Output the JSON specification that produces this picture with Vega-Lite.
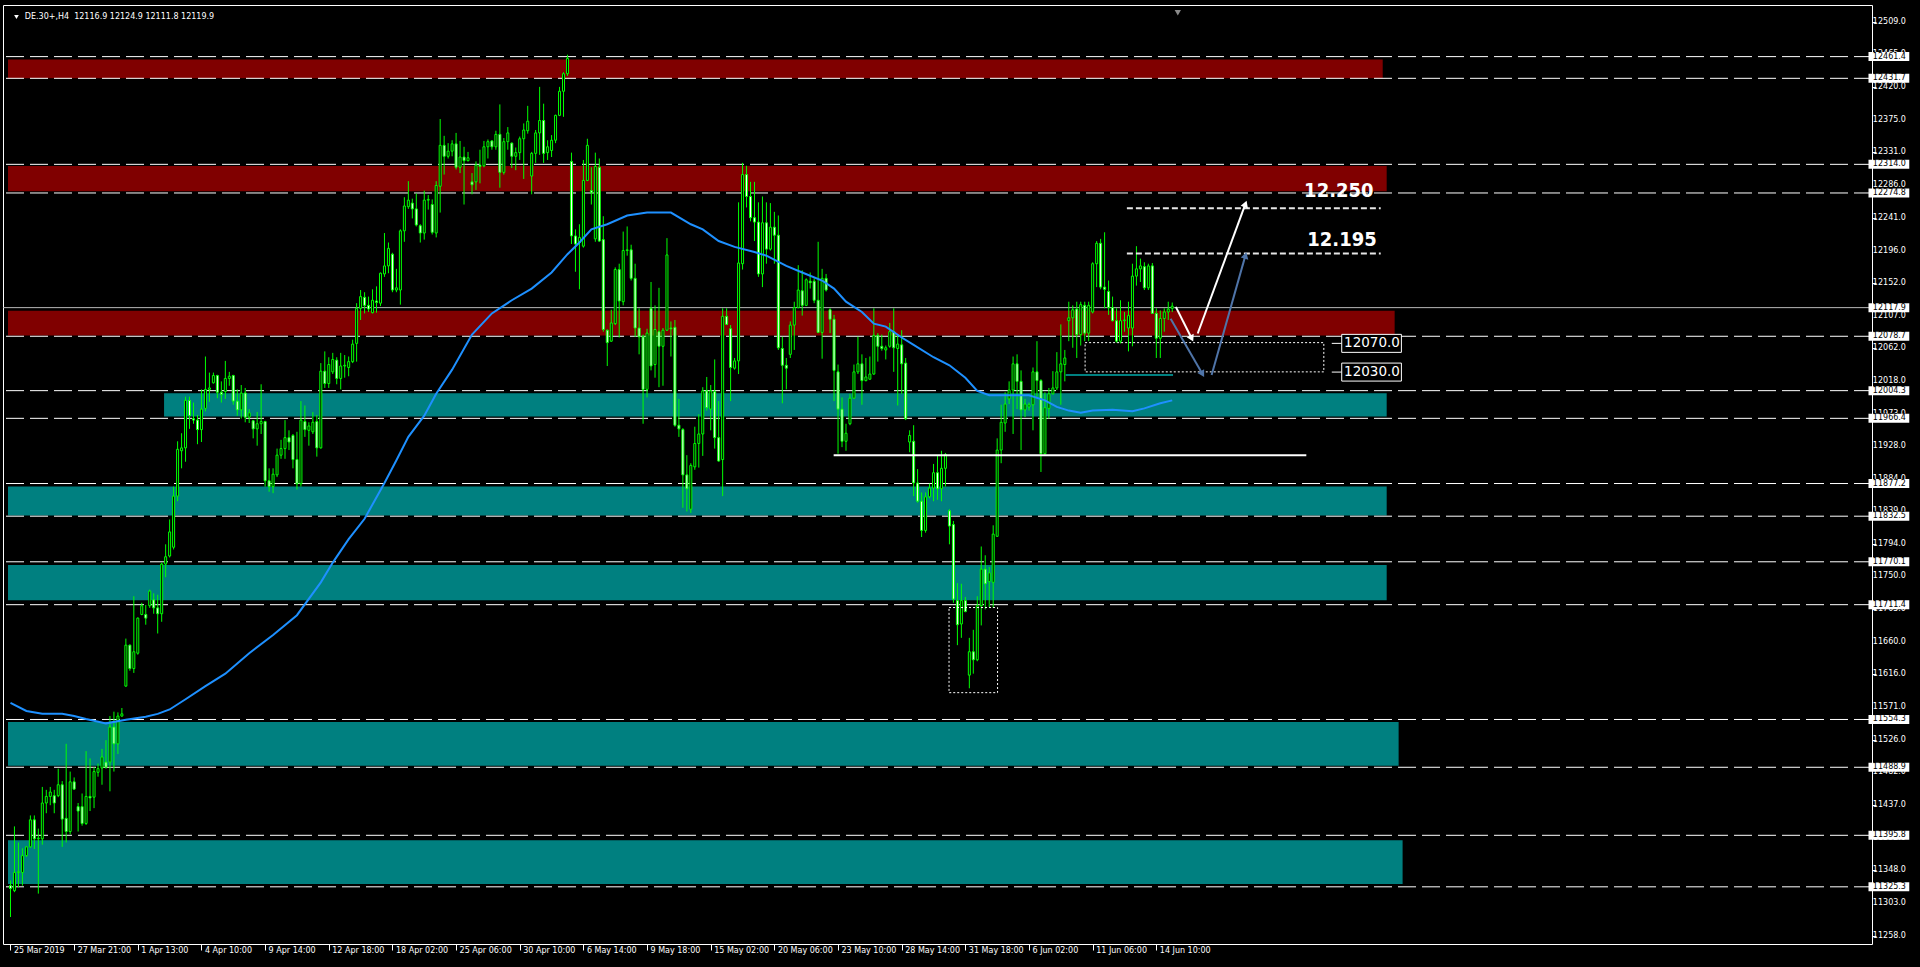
{
"$schema":"https://vega.github.io/schema/vega-lite/v6.json",
"width":1869,"height":939,
"autosize":{"type":"none"},
"padding":{"left":3,"top":5,"right":48,"bottom":23},
"background":"#000000",
"view":{"fill":"#000000","stroke":"#FFFFFF","strokeWidth":1},
"config":{"axis":{"grid":false,"domain":false,"labelFont":"DejaVu Sans","labelFontSize":8,"labelColor":"#FFFFFF","tickColor":"#FFFFFF","labelOverlap":false,"labelFlush":false,"labelBound":false}},
"datasets":{
"candles":[
{"i":0,"o":11327,"h":11334,"l":11284,"c":11323},{"i":1,"o":11320,"h":11408,"l":11318,"c":11345},{"i":2,"o":11345,"h":11386,"l":11325,"c":11346},{"i":3,"o":11345,"h":11378,"l":11327,"c":11368},{"i":4,"o":11368,"h":11381,"l":11366,"c":11380},{"i":5,"o":11380,"h":11423,"l":11379,"c":11417},{"i":6,"o":11417,"h":11423,"l":11377,"c":11391},{"i":7,"o":11391,"h":11405,"l":11316,"c":11392},{"i":8,"o":11391,"h":11462,"l":11383,"c":11440},{"i":9,"o":11440,"h":11458,"l":11426,"c":11449},
{"i":10,"o":11449,"h":11462,"l":11437,"c":11455},{"i":11,"o":11450,"h":11458,"l":11426,"c":11440},{"i":12,"o":11450,"h":11487,"l":11448,"c":11465},{"i":13,"o":11465,"h":11470,"l":11380,"c":11418},{"i":14,"o":11419,"h":11521,"l":11386,"c":11401},{"i":15,"o":11401,"h":11483,"l":11397,"c":11469},{"i":16,"o":11469,"h":11475,"l":11458,"c":11459},{"i":17,"o":11435,"h":11440,"l":11401,"c":11429},{"i":18,"o":11435,"h":11453,"l":11409,"c":11412},{"i":19,"o":11412,"h":11511,"l":11410,"c":11449},
{"i":20,"o":11449,"h":11501,"l":11429,"c":11447},{"i":21,"o":11448,"h":11489,"l":11433,"c":11483},{"i":22,"o":11482,"h":11494,"l":11476,"c":11487},{"i":23,"o":11488,"h":11514,"l":11465,"c":11503},{"i":24,"o":11496,"h":11526,"l":11487,"c":11489},{"i":25,"o":11496,"h":11559,"l":11456,"c":11544},{"i":26,"o":11544,"h":11565,"l":11483,"c":11521},{"i":27,"o":11521,"h":11564,"l":11507,"c":11559},{"i":28,"o":11559,"h":11570,"l":11558,"c":11562},{"i":29,"o":11600,"h":11665,"l":11599,"c":11656},
{"i":30,"o":11656,"h":11657,"l":11621,"c":11624},{"i":31,"o":11624,"h":11723,"l":11618,"c":11647},{"i":32,"o":11645,"h":11694,"l":11643,"c":11693},{"i":33,"o":11698,"h":11714,"l":11697,"c":11710},{"i":34,"o":11698,"h":11711,"l":11684,"c":11693},{"i":35,"o":11710,"h":11732,"l":11707,"c":11730},{"i":36,"o":11718,"h":11727,"l":11699,"c":11707},{"i":37,"o":11707,"h":11725,"l":11672,"c":11699},{"i":38,"o":11699,"h":11769,"l":11688,"c":11767},{"i":39,"o":11767,"h":11794,"l":11749,"c":11777},
{"i":40,"o":11778,"h":11828,"l":11776,"c":11811},{"i":41,"o":11790,"h":11873,"l":11787,"c":11860},{"i":42,"o":11860,"h":11935,"l":11853,"c":11924},{"i":43,"o":11922,"h":11946,"l":11898,"c":11926},{"i":44,"o":11926,"h":11996,"l":11907,"c":11991},{"i":45,"o":11991,"h":11996,"l":11952,"c":11970},{"i":46,"o":11966,"h":11988,"l":11959,"c":11964},{"i":47,"o":11964,"h":11971,"l":11931,"c":11951},{"i":48,"o":11951,"h":12006,"l":11934,"c":11979},{"i":49,"o":11980,"h":12051,"l":11976,"c":12006},
{"i":50,"o":12006,"h":12029,"l":11989,"c":12008},{"i":51,"o":12015,"h":12029,"l":12014,"c":12025},{"i":52,"o":12025,"h":12026,"l":11994,"c":12002},{"i":53,"o":12002,"h":12017,"l":11988,"c":11999},{"i":54,"o":12003,"h":12045,"l":11993,"c":12021},{"i":55,"o":12021,"h":12030,"l":12011,"c":12024},{"i":56,"o":12025,"h":12026,"l":11985,"c":11990},{"i":57,"o":11990,"h":12006,"l":11970,"c":11978},{"i":58,"o":11978,"h":12012,"l":11966,"c":12001},{"i":59,"o":12001,"h":12008,"l":11961,"c":11968},
{"i":60,"o":11968,"h":11979,"l":11960,"c":11974},{"i":61,"o":11963,"h":11964,"l":11939,"c":11952},{"i":62,"o":11952,"h":11975,"l":11929,"c":11959},{"i":63,"o":11959,"h":12013,"l":11945,"c":11962},{"i":64,"o":11962,"h":11963,"l":11873,"c":11881},{"i":65,"o":11881,"h":11898,"l":11866,"c":11873},{"i":66,"o":11873,"h":11898,"l":11864,"c":11890},{"i":67,"o":11889,"h":11925,"l":11886,"c":11916},{"i":68,"o":11916,"h":11937,"l":11911,"c":11925},{"i":69,"o":11925,"h":11964,"l":11911,"c":11940},
{"i":70,"o":11940,"h":11950,"l":11923,"c":11934},{"i":71,"o":11943,"h":11945,"l":11898,"c":11910},{"i":72,"o":11910,"h":11948,"l":11869,"c":11877},{"i":73,"o":11877,"h":11990,"l":11873,"c":11964},{"i":74,"o":11962,"h":11984,"l":11941,"c":11951},{"i":75,"o":11950,"h":11961,"l":11929,"c":11956},{"i":76,"o":11948,"h":11975,"l":11945,"c":11961},{"i":77,"o":11962,"h":11971,"l":11914,"c":11926},{"i":78,"o":11926,"h":12042,"l":11925,"c":12031},{"i":79,"o":12031,"h":12058,"l":12008,"c":12014},
{"i":80,"o":12014,"h":12050,"l":12008,"c":12040},{"i":81,"o":12030,"h":12056,"l":12027,"c":12047},{"i":82,"o":12046,"h":12050,"l":12013,"c":12021},{"i":83,"o":12021,"h":12056,"l":12006,"c":12038},{"i":84,"o":12038,"h":12053,"l":12022,"c":12039},{"i":85,"o":12036,"h":12051,"l":12024,"c":12044},{"i":86,"o":12044,"h":12074,"l":12042,"c":12068},{"i":87,"o":12069,"h":12124,"l":12044,"c":12117},{"i":88,"o":12117,"h":12142,"l":12101,"c":12133},{"i":89,"o":12132,"h":12139,"l":12110,"c":12121},
{"i":90,"o":12121,"h":12133,"l":12112,"c":12116},{"i":91,"o":12111,"h":12143,"l":12110,"c":12128},{"i":92,"o":12127,"h":12147,"l":12111,"c":12125},{"i":93,"o":12124,"h":12166,"l":12120,"c":12165},{"i":94,"o":12164,"h":12220,"l":12160,"c":12175},{"i":95,"o":12175,"h":12207,"l":12165,"c":12199},{"i":96,"o":12191,"h":12193,"l":12139,"c":12142},{"i":97,"o":12142,"h":12171,"l":12139,"c":12145},{"i":98,"o":12142,"h":12225,"l":12122,"c":12223},{"i":99,"o":12223,"h":12269,"l":12208,"c":12257},
{"i":100,"o":12256,"h":12291,"l":12253,"c":12265},{"i":101,"o":12261,"h":12267,"l":12240,"c":12253},{"i":102,"o":12253,"h":12274,"l":12229,"c":12231},{"i":103,"o":12230,"h":12232,"l":12207,"c":12220},{"i":104,"o":12220,"h":12278,"l":12211,"c":12265},{"i":105,"o":12265,"h":12272,"l":12252,"c":12266},{"i":106,"o":12259,"h":12266,"l":12218,"c":12221},{"i":107,"o":12220,"h":12291,"l":12214,"c":12285},{"i":108,"o":12284,"h":12376,"l":12248,"c":12340},{"i":109,"o":12340,"h":12353,"l":12300,"c":12325},
{"i":110,"o":12325,"h":12343,"l":12322,"c":12332},{"i":111,"o":12332,"h":12347,"l":12325,"c":12342},{"i":112,"o":12342,"h":12357,"l":12307,"c":12310},{"i":113,"o":12310,"h":12346,"l":12302,"c":12324},{"i":114,"o":12324,"h":12338,"l":12259,"c":12319},{"i":115,"o":12319,"h":12331,"l":12318,"c":12323},{"i":116,"o":12290,"h":12302,"l":12273,"c":12286},{"i":117,"o":12290,"h":12318,"l":12279,"c":12313},{"i":118,"o":12313,"h":12334,"l":12288,"c":12311},{"i":119,"o":12312,"h":12346,"l":12310,"c":12338},
{"i":120,"o":12338,"h":12348,"l":12322,"c":12345},{"i":121,"o":12346,"h":12347,"l":12334,"c":12338},{"i":122,"o":12338,"h":12360,"l":12334,"c":12355},{"i":123,"o":12355,"h":12396,"l":12282,"c":12303},{"i":124,"o":12303,"h":12350,"l":12300,"c":12345},{"i":125,"o":12345,"h":12365,"l":12334,"c":12357},{"i":126,"o":12343,"h":12344,"l":12309,"c":12325},{"i":127,"o":12325,"h":12337,"l":12306,"c":12330},{"i":128,"o":12330,"h":12352,"l":12320,"c":12349},{"i":129,"o":12349,"h":12370,"l":12294,"c":12361},
{"i":130,"o":12360,"h":12394,"l":12356,"c":12373},{"i":131,"o":12298,"h":12331,"l":12273,"c":12329},{"i":132,"o":12329,"h":12361,"l":12316,"c":12357},{"i":133,"o":12357,"h":12420,"l":12327,"c":12374},{"i":134,"o":12374,"h":12397,"l":12316,"c":12329},{"i":135,"o":12330,"h":12347,"l":12320,"c":12338},{"i":136,"o":12333,"h":12354,"l":12324,"c":12347},{"i":137,"o":12347,"h":12382,"l":12343,"c":12381},{"i":138,"o":12381,"h":12420,"l":12380,"c":12414},{"i":139,"o":12414,"h":12440,"l":12379,"c":12438},
{"i":140,"o":12438,"h":12464,"l":12435,"c":12459},{"i":141,"o":12318,"h":12330,"l":12205,"c":12216},{"i":142,"o":12216,"h":12225,"l":12167,"c":12205},{"i":143,"o":12207,"h":12232,"l":12143,"c":12214},{"i":144,"o":12202,"h":12320,"l":12200,"c":12292},{"i":145,"o":12292,"h":12349,"l":12291,"c":12340},{"i":146,"o":12278,"h":12310,"l":12259,"c":12275},{"i":147,"o":12212,"h":12330,"l":12208,"c":12311},{"i":148,"o":12310,"h":12322,"l":12208,"c":12209},{"i":149,"o":12211,"h":12243,"l":12085,"c":12088},
{"i":150,"o":12087,"h":12088,"l":12038,"c":12070},{"i":151,"o":12072,"h":12115,"l":12071,"c":12097},{"i":152,"o":12096,"h":12173,"l":12094,"c":12170},{"i":153,"o":12170,"h":12178,"l":12077,"c":12127},{"i":154,"o":12126,"h":12222,"l":12121,"c":12196},{"i":155,"o":12196,"h":12229,"l":12189,"c":12197},{"i":156,"o":12197,"h":12204,"l":12155,"c":12158},{"i":157,"o":12158,"h":12178,"l":12078,"c":12090},{"i":158,"o":12090,"h":12117,"l":12054,"c":12078},{"i":159,"o":12078,"h":12081,"l":11959,"c":12006},
{"i":160,"o":12006,"h":12089,"l":11995,"c":12083},{"i":161,"o":12117,"h":12153,"l":12032,"c":12038},{"i":162,"o":12040,"h":12121,"l":12022,"c":12088},{"i":163,"o":12085,"h":12145,"l":12009,"c":12065},{"i":164,"o":12065,"h":12090,"l":12011,"c":12087},{"i":165,"o":12087,"h":12213,"l":12086,"c":12190},{"i":166,"o":12090,"h":12099,"l":12051,"c":12089},{"i":167,"o":12091,"h":12101,"l":11955,"c":11957},{"i":168,"o":11957,"h":11993,"l":11941,"c":11952},{"i":169,"o":11951,"h":11953,"l":11844,"c":11889},
{"i":170,"o":11889,"h":11916,"l":11839,"c":11870},{"i":171,"o":11842,"h":11905,"l":11837,"c":11902},{"i":172,"o":11900,"h":11955,"l":11896,"c":11932},{"i":173,"o":11932,"h":11972,"l":11899,"c":11945},{"i":174,"o":11945,"h":12009,"l":11915,"c":12004},{"i":175,"o":12004,"h":12023,"l":11977,"c":11981},{"i":176,"o":11979,"h":12012,"l":11950,"c":12004},{"i":177,"o":12003,"h":12047,"l":11925,"c":11940},{"i":178,"o":11940,"h":11990,"l":11907,"c":11908},{"i":179,"o":11910,"h":12117,"l":11860,"c":12106},
{"i":180,"o":12106,"h":12117,"l":12094,"c":12095},{"i":181,"o":12089,"h":12094,"l":11990,"c":12036},{"i":182,"o":12035,"h":12049,"l":12033,"c":12045},{"i":183,"o":12045,"h":12262,"l":12027,"c":12179},{"i":184,"o":12178,"h":12316,"l":12170,"c":12300},{"i":185,"o":12300,"h":12312,"l":12255,"c":12270},{"i":186,"o":12270,"h":12290,"l":12236,"c":12241},{"i":187,"o":12241,"h":12290,"l":12209,"c":12235},{"i":188,"o":12235,"h":12262,"l":12160,"c":12164},{"i":189,"o":12164,"h":12270,"l":12146,"c":12234},
{"i":190,"o":12234,"h":12262,"l":12178,"c":12198},{"i":191,"o":12198,"h":12261,"l":12196,"c":12228},{"i":192,"o":12228,"h":12249,"l":12178,"c":12217},{"i":193,"o":12217,"h":12244,"l":12060,"c":12063},{"i":194,"o":12062,"h":12078,"l":11987,"c":12039},{"i":195,"o":12039,"h":12049,"l":12006,"c":12035},{"i":196,"o":12054,"h":12099,"l":12049,"c":12094},{"i":197,"o":12094,"h":12126,"l":12060,"c":12118},{"i":198,"o":12118,"h":12176,"l":12117,"c":12142},{"i":199,"o":12141,"h":12169,"l":12107,"c":12121},
{"i":200,"o":12121,"h":12158,"l":12120,"c":12156},{"i":201,"o":12154,"h":12166,"l":12144,"c":12152},{"i":202,"o":12154,"h":12158,"l":12124,"c":12128},{"i":203,"o":12128,"h":12208,"l":12083,"c":12084},{"i":204,"o":12084,"h":12171,"l":12048,"c":12158},{"i":205,"o":12158,"h":12164,"l":12140,"c":12142},{"i":206,"o":12115,"h":12117,"l":12083,"c":12102},{"i":207,"o":12102,"h":12108,"l":11990,"c":12032},{"i":208,"o":12030,"h":12040,"l":11918,"c":11979},{"i":209,"o":11979,"h":11995,"l":11927,"c":11935},
{"i":210,"o":11935,"h":11959,"l":11922,"c":11946},{"i":211,"o":11959,"h":12000,"l":11957,"c":11994},{"i":212,"o":11994,"h":12040,"l":11993,"c":12030},{"i":213,"o":12030,"h":12078,"l":12027,"c":12041},{"i":214,"o":12041,"h":12054,"l":11985,"c":12018},{"i":215,"o":12018,"h":12049,"l":12017,"c":12023},{"i":216,"o":12020,"h":12051,"l":12019,"c":12027},{"i":217,"o":12027,"h":12117,"l":12026,"c":12080},{"i":218,"o":12080,"h":12083,"l":12044,"c":12065},{"i":219,"o":12065,"h":12081,"l":12059,"c":12062},
{"i":220,"o":12060,"h":12066,"l":12047,"c":12063},{"i":221,"o":12065,"h":12097,"l":12063,"c":12085},{"i":222,"o":12085,"h":12117,"l":12030,"c":12063},{"i":223,"o":12062,"h":12081,"l":11984,"c":12068},{"i":224,"o":12067,"h":12087,"l":12000,"c":12041},{"i":225,"o":12042,"h":12049,"l":11964,"c":11966},{"i":226,"o":11934,"h":11950,"l":11920,"c":11943},{"i":227,"o":11935,"h":11957,"l":11860,"c":11878},{"i":228,"o":11878,"h":11897,"l":11851,"c":11853},{"i":229,"o":11853,"h":11865,"l":11804,"c":11813},
{"i":230,"o":11813,"h":11865,"l":11810,"c":11859},{"i":231,"o":11859,"h":11877,"l":11857,"c":11871},{"i":232,"o":11871,"h":11904,"l":11853,"c":11892},{"i":233,"o":11892,"h":11915,"l":11855,"c":11870},{"i":234,"o":11870,"h":11922,"l":11853,"c":11898},{"i":235,"o":11898,"h":11919,"l":11873,"c":11917},{"i":236,"o":11840,"h":11842,"l":11794,"c":11819},{"i":237,"o":11821,"h":11826,"l":11714,"c":11719},{"i":238,"o":11717,"h":11741,"l":11656,"c":11684},{"i":239,"o":11685,"h":11740,"l":11666,"c":11717},
{"i":240,"o":11717,"h":11722,"l":11701,"c":11702},{"i":241,"o":11615,"h":11666,"l":11597,"c":11647},{"i":242,"o":11647,"h":11677,"l":11617,"c":11636},{"i":243,"o":11636,"h":11723,"l":11634,"c":11710},{"i":244,"o":11710,"h":11791,"l":11683,"c":11760},{"i":245,"o":11760,"h":11779,"l":11705,"c":11740},{"i":246,"o":11743,"h":11763,"l":11708,"c":11755},{"i":247,"o":11742,"h":11820,"l":11707,"c":11808},{"i":248,"o":11805,"h":11939,"l":11804,"c":11923},{"i":249,"o":11923,"h":11985,"l":11905,"c":11961},
{"i":250,"o":11960,"h":12002,"l":11948,"c":11986},{"i":251,"o":11993,"h":12017,"l":11986,"c":12005},{"i":252,"o":12005,"h":12051,"l":11945,"c":12041},{"i":253,"o":12041,"h":12054,"l":11979,"c":12017},{"i":254,"o":12017,"h":12032,"l":11923,"c":11978},{"i":255,"o":11978,"h":11993,"l":11968,"c":11986},{"i":256,"o":11982,"h":11988,"l":11977,"c":11985},{"i":257,"o":11985,"h":12036,"l":11950,"c":12030},{"i":258,"o":12030,"h":12072,"l":11995,"c":12018},{"i":259,"o":12018,"h":12020,"l":11893,"c":11918},
{"i":260,"o":11918,"h":12002,"l":11917,"c":11981},{"i":261,"o":11980,"h":12008,"l":11966,"c":12000},{"i":262,"o":12000,"h":12031,"l":11999,"c":12008},{"i":263,"o":12008,"h":12057,"l":12005,"c":12030},{"i":264,"o":12030,"h":12095,"l":11985,"c":12041},{"i":265,"o":12040,"h":12060,"l":12017,"c":12049},{"i":266,"o":12100,"h":12126,"l":12072,"c":12104},{"i":267,"o":12104,"h":12121,"l":12063,"c":12115},{"i":268,"o":12116,"h":12126,"l":12049,"c":12081},{"i":269,"o":12081,"h":12126,"l":12066,"c":12122},
{"i":270,"o":12121,"h":12126,"l":12072,"c":12083},{"i":271,"o":12083,"h":12126,"l":12072,"c":12121},{"i":272,"o":12112,"h":12180,"l":12110,"c":12178},{"i":273,"o":12178,"h":12209,"l":12146,"c":12206},{"i":274,"o":12206,"h":12212,"l":12143,"c":12146},{"i":275,"o":12146,"h":12221,"l":12117,"c":12143},{"i":276,"o":12140,"h":12155,"l":12108,"c":12118},{"i":277,"o":12118,"h":12133,"l":12099,"c":12100},{"i":278,"o":12100,"h":12117,"l":12070,"c":12072},{"i":279,"o":12072,"h":12128,"l":12069,"c":12100},
{"i":280,"o":12100,"h":12112,"l":12085,"c":12101},{"i":281,"o":12090,"h":12126,"l":12058,"c":12107},{"i":282,"o":12090,"h":12178,"l":12065,"c":12161},{"i":283,"o":12161,"h":12202,"l":12148,"c":12171},{"i":284,"o":12171,"h":12185,"l":12153,"c":12175},{"i":285,"o":12174,"h":12180,"l":12142,"c":12145},{"i":286,"o":12145,"h":12178,"l":12142,"c":12175},{"i":287,"o":12175,"h":12179,"l":12110,"c":12110},{"i":288,"o":12110,"h":12117,"l":12049,"c":12076},{"i":289,"o":12076,"h":12114,"l":12049,"c":12103},
{"i":290,"o":12103,"h":12117,"l":12085,"c":12112},{"i":291,"o":12112,"h":12126,"l":12101,"c":12116},{"i":292,"o":12116.9,"h":12124.9,"l":12111.8,"c":12119.9}
],
"ma":[
{"i":0,"v":11577},{"i":4,"v":11566},{"i":8,"v":11562},{"i":13,"v":11562},{"i":16,"v":11559},{"i":19,"v":11555},{"i":24,"v":11549},{"i":29,"v":11554},{"i":34,"v":11558},{"i":37,"v":11562},{"i":40,"v":11568},{"i":44,"v":11582},{"i":49,"v":11600},{"i":54,"v":11617},{"i":60,"v":11645},{"i":66,"v":11670},{"i":72,"v":11697},{"i":78,"v":11742},{"i":81,"v":11769},{"i":85,"v":11801},{"i":89,"v":11829},{"i":94,"v":11878},{"i":97,"v":11909},{"i":100,"v":11941},{"i":104,"v":11970},{"i":107,"v":12000},{"i":111,"v":12033},{"i":116,"v":12081},{"i":121,"v":12110},{"i":126,"v":12128},{"i":131,"v":12144},{"i":136,"v":12166},{"i":140,"v":12191},{"i":143,"v":12207},{"i":146,"v":12225},{"i":150,"v":12232},{"i":155,"v":12244},{"i":160,"v":12248},{"i":166,"v":12248},{"i":171,"v":12232},{"i":174,"v":12225},{"i":178,"v":12209},{"i":182,"v":12201},{"i":187,"v":12194},{"i":190,"v":12189},{"i":195,"v":12175},{"i":199,"v":12166},{"i":204,"v":12155},{"i":207,"v":12144},{"i":210,"v":12126},{"i":214,"v":12112},{"i":217,"v":12096},{"i":220,"v":12092},{"i":224,"v":12077},{"i":227,"v":12067},{"i":232,"v":12050},{"i":236,"v":12039},{"i":240,"v":12022},{"i":243,"v":12004},{"i":246,"v":11998},{"i":252,"v":11998},{"i":256,"v":11998},{"i":260,"v":11991},{"i":263,"v":11982},{"i":266,"v":11977},{"i":269,"v":11974},{"i":272,"v":11977},{"i":277,"v":11978},{"i":282,"v":11976},{"i":285,"v":11980},{"i":289,"v":11987},{"i":292,"v":11991}
],
"zones":[
{"k":"r","x1":-0.625,"x2":344.9,"y1":12431.8,"y2":12457.6},
{"k":"r","x1":-0.625,"x2":345.9,"y1":12277.1,"y2":12311.7},
{"k":"r","x1":-0.625,"x2":347.9,"y1":12079.8,"y2":12113.7},
{"k":"t","x1":38.6,"x2":345.9,"y1":11968.8,"y2":12000.6},
{"k":"t","x1":-0.625,"x2":345.9,"y1":11833.4,"y2":11873.1},
{"k":"t","x1":-0.625,"x2":345.9,"y1":11717.4,"y2":11765.7},
{"k":"t","x1":-0.625,"x2":348.9,"y1":11491,"y2":11551},
{"k":"t","x1":-0.625,"x2":349.9,"y1":11329,"y2":11389}
],
"levels":[{"p":12461.4},{"p":12431.7},{"p":12314.0},{"p":12274.8},{"p":12117.9},{"p":12078.7},{"p":12004.3},{"p":11966.4},{"p":11877.2},{"p":11832.5},{"p":11770.1},{"p":11711.4},{"p":11554.3},{"p":11488.9},{"p":11395.8},{"p":11325.3}],
"yticks":[{"p":12509},{"p":12465},{"p":12420},{"p":12375},{"p":12331},{"p":12286},{"p":12241},{"p":12196},{"p":12152},{"p":12107},{"p":12062},{"p":12018},{"p":11973},{"p":11928},{"p":11884},{"p":11839},{"p":11794},{"p":11750},{"p":11705},{"p":11660},{"p":11616},{"p":11571},{"p":11526},{"p":11482},{"p":11437},{"p":11392},{"p":11348},{"p":11303},{"p":11258}],
"segs":[
{"k":"s","i1":206.9,"i2":325.7,"p":11916},
{"k":"t","i1":265.2,"i2":292.2,"p":12025.6},
{"k":"g","i1":280.6,"i2":344.4,"p":12254},
{"k":"g","i1":280.6,"i2":344.4,"p":12192}
],
"boxes":[
{"i1":270.1,"i2":330.1,"p1":12030,"p2":12070},
{"i1":235.9,"i2":248.1,"p1":11591,"p2":11707.5}
],
"arrows":[
{"a":"w1","e":0,"i":292.9,"p":12119},{"a":"w1","e":1,"i":296.9,"p":12075.7},
{"a":"w2","e":0,"i":298.4,"p":12082.5},{"a":"w2","e":1,"i":310.4,"p":12259.8},
{"a":"b1","e":0,"i":291.6,"p":12102.8},{"a":"b1","e":1,"i":299.6,"p":12027},
{"a":"b2","e":0,"i":301.9,"p":12025.6},{"a":"b2","e":1,"i":310.4,"p":12189.4}
],
"big":[{"t":"12.250","i":342.6,"p":12277},{"t":"12.195","i":343.4,"p":12209.8}],
"tags":[{"t":"12070.0","p":12069},{"t":"12030.0","p":12029.7}],
"title":[{"t":"DE.30+,H4\u00a0\u00a012116.9 12124.9 12111.8 12119.9","i":3.6,"p":12515.7}]
},
"layer":[
{"data":{"name":"zones"},"transform":[{"filter":"datum.k=='r'"}],
 "mark":{"type":"rect","color":"#800000"},
 "encoding":{
  "x":{"field":"x1","type":"quantitative","title":null,"scale":{"domain":[-0.625,466.625],"nice":false,"zero":false},
   "axis":{"orient":"bottom","title":null,"values":[0,16,32,48,64,80,96,112,128,144,160,176,192,208,224,240,256,272,288],
    "labelExpr":"['25 Mar 2019','27 Mar 21:00','1 Apr 13:00','4 Apr 10:00','9 Apr 14:00','12 Apr 18:00','18 Apr 02:00','25 Apr 06:00','30 Apr 10:00','6 May 14:00','9 May 18:00','15 May 02:00','20 May 06:00','23 May 10:00','28 May 14:00','31 May 18:00','6 Jun 02:00','11 Jun 06:00','14 Jun 10:00'][round(datum.value/16)]",
    "labelAlign":"left","labelBaseline":"top","labelPadding":-4,"labelOffset":3,"tickSize":6,"labelFlush":false,"labelOverlap":false}},
  "x2":{"field":"x2"},
  "y":{"field":"y1","type":"quantitative","title":null,"scale":{"domain":[11253.9,12525.2],"nice":false,"zero":false},
   "axis":{"orient":"right","title":null,"values":[12509,12465,12420,12375,12331,12286,12241,12196,12152,12107,12062,12018,11973,11928,11884,11839,11794,11750,11705,11660,11616,11571,11526,11482,11437,11392,11348,11303,11258],
    "labels":false,"tickSize":4}},
  "y2":{"field":"y2"}}},
{"data":{"name":"zones"},"transform":[{"filter":"datum.k=='t'"}],
 "mark":{"type":"rect","color":"#008080"},
 "encoding":{"x":{"field":"x1","type":"quantitative","title":null,"scale":{"domain":[-0.625,466.625],"nice":false,"zero":false}},"x2":{"field":"x2"},
  "y":{"field":"y1","type":"quantitative","title":null,"scale":{"domain":[11253.9,12525.2],"nice":false,"zero":false}},"y2":{"field":"y2"}}},
{"data":{"name":"levels"},"transform":[{"filter":"datum.p!=12117.9"}],
 "mark":{"type":"rule","color":"#FFFFFF","strokeWidth":1,"strokeDash":[18,6]},
 "encoding":{"y":{"field":"p","type":"quantitative","title":null,"scale":{"domain":[11253.9,12525.2],"nice":false,"zero":false}}}},
{"data":{"name":"levels"},"transform":[{"filter":"datum.p==12117.9"}],
 "mark":{"type":"rule","color":"#B8B8B8","strokeWidth":1},
 "encoding":{"y":{"field":"p","type":"quantitative","title":null,"scale":{"domain":[11253.9,12525.2],"nice":false,"zero":false}}}},
{"data":{"name":"candles"},
 "mark":{"type":"rule","color":"#00FF00","strokeWidth":1},
 "encoding":{"x":{"field":"i","type":"quantitative","title":null,"scale":{"domain":[-0.625,466.625],"nice":false,"zero":false}},
  "y":{"field":"l","type":"quantitative","title":null,"scale":{"domain":[11253.9,12525.2],"nice":false,"zero":false}},"y2":{"field":"h"}}},
{"data":{"name":"candles"},
 "mark":{"type":"bar","size":2,"stroke":"#00FF00","strokeWidth":1},
 "encoding":{"x":{"field":"i","type":"quantitative","title":null,"scale":{"domain":[-0.625,466.625],"nice":false,"zero":false}},
  "y":{"field":"o","type":"quantitative","title":null,"scale":{"domain":[11253.9,12525.2],"nice":false,"zero":false}},"y2":{"field":"c"},
  "fill":{"condition":{"test":"datum.c>=datum.o","value":"#000000"},"value":"#FFFFFF"}}},
{"data":{"name":"ma"},
 "mark":{"type":"line","color":"#1E90FF","strokeWidth":2},
 "encoding":{"x":{"field":"i","type":"quantitative","title":null,"scale":{"domain":[-0.625,466.625],"nice":false,"zero":false}},
  "y":{"field":"v","type":"quantitative","title":null,"scale":{"domain":[11253.9,12525.2],"nice":false,"zero":false}}}},
{"data":{"name":"segs"},"transform":[{"filter":"datum.k=='s'"}],
 "mark":{"type":"rule","color":"#FFFFFF","strokeWidth":2},
 "encoding":{"x":{"field":"i1","type":"quantitative","title":null,"scale":{"domain":[-0.625,466.625],"nice":false,"zero":false}},"x2":{"field":"i2"},
  "y":{"field":"p","type":"quantitative","title":null,"scale":{"domain":[11253.9,12525.2],"nice":false,"zero":false}}}},
{"data":{"name":"segs"},"transform":[{"filter":"datum.k=='t'"}],
 "mark":{"type":"rule","color":"#008080","strokeWidth":2},
 "encoding":{"x":{"field":"i1","type":"quantitative","title":null,"scale":{"domain":[-0.625,466.625],"nice":false,"zero":false}},"x2":{"field":"i2"},
  "y":{"field":"p","type":"quantitative","title":null,"scale":{"domain":[11253.9,12525.2],"nice":false,"zero":false}}}},
{"data":{"name":"segs"},"transform":[{"filter":"datum.k=='g'"}],
 "mark":{"type":"rule","color":"#E6E6E6","strokeWidth":2,"strokeDash":[6,3]},
 "encoding":{"x":{"field":"i1","type":"quantitative","title":null,"scale":{"domain":[-0.625,466.625],"nice":false,"zero":false}},"x2":{"field":"i2"},
  "y":{"field":"p","type":"quantitative","title":null,"scale":{"domain":[11253.9,12525.2],"nice":false,"zero":false}}}},
{"data":{"name":"boxes"},
 "mark":{"type":"rect","fillOpacity":0,"stroke":"#FFFFFF","strokeWidth":1,"strokeDash":[2,2]},
 "encoding":{"x":{"field":"i1","type":"quantitative","title":null,"scale":{"domain":[-0.625,466.625],"nice":false,"zero":false}},"x2":{"field":"i2"},
  "y":{"field":"p1","type":"quantitative","title":null,"scale":{"domain":[11253.9,12525.2],"nice":false,"zero":false}},"y2":{"field":"p2"}}},
{"data":{"name":"arrows"},"transform":[{"filter":"datum.a=='w1'||datum.a=='w2'"}],
 "mark":{"type":"line","color":"#FFFFFF","strokeWidth":2},
 "encoding":{"x":{"field":"i","type":"quantitative","title":null,"scale":{"domain":[-0.625,466.625],"nice":false,"zero":false}},
  "y":{"field":"p","type":"quantitative","title":null,"scale":{"domain":[11253.9,12525.2],"nice":false,"zero":false}},
  "detail":{"field":"a"},"order":{"field":"e"}}},
{"data":{"name":"arrows"},"transform":[{"filter":"datum.a=='b1'||datum.a=='b2'"}],
 "mark":{"type":"line","color":"#4F74A8","strokeWidth":2},
 "encoding":{"x":{"field":"i","type":"quantitative","title":null,"scale":{"domain":[-0.625,466.625],"nice":false,"zero":false}},
  "y":{"field":"p","type":"quantitative","title":null,"scale":{"domain":[11253.9,12525.2],"nice":false,"zero":false}},
  "detail":{"field":"a"},"order":{"field":"e"}}},
{"data":{"name":"arrows"},"transform":[{"filter":"datum.a=='w1'&&datum.e==1"}],
 "mark":{"type":"point","shape":"triangle-up","filled":true,"size":60,"opacity":1,"color":"#FFFFFF","angle":153},
 "encoding":{"x":{"field":"i","type":"quantitative","title":null,"scale":{"domain":[-0.625,466.625],"nice":false,"zero":false}},
  "y":{"field":"p","type":"quantitative","title":null,"scale":{"domain":[11253.9,12525.2],"nice":false,"zero":false}}}},
{"data":{"name":"arrows"},"transform":[{"filter":"datum.a=='w2'&&datum.e==1"}],
 "mark":{"type":"point","shape":"triangle-up","filled":true,"size":60,"opacity":1,"color":"#FFFFFF","angle":20},
 "encoding":{"x":{"field":"i","type":"quantitative","title":null,"scale":{"domain":[-0.625,466.625],"nice":false,"zero":false}},
  "y":{"field":"p","type":"quantitative","title":null,"scale":{"domain":[11253.9,12525.2],"nice":false,"zero":false}}}},
{"data":{"name":"arrows"},"transform":[{"filter":"datum.a=='b1'&&datum.e==1"}],
 "mark":{"type":"point","shape":"triangle-up","filled":true,"size":60,"opacity":1,"color":"#4F74A8","angle":150},
 "encoding":{"x":{"field":"i","type":"quantitative","title":null,"scale":{"domain":[-0.625,466.625],"nice":false,"zero":false}},
  "y":{"field":"p","type":"quantitative","title":null,"scale":{"domain":[11253.9,12525.2],"nice":false,"zero":false}}}},
{"data":{"name":"arrows"},"transform":[{"filter":"datum.a=='b2'&&datum.e==1"}],
 "mark":{"type":"point","shape":"triangle-up","filled":true,"size":60,"opacity":1,"color":"#4F74A8","angle":16},
 "encoding":{"x":{"field":"i","type":"quantitative","title":null,"scale":{"domain":[-0.625,466.625],"nice":false,"zero":false}},
  "y":{"field":"p","type":"quantitative","title":null,"scale":{"domain":[11253.9,12525.2],"nice":false,"zero":false}}}},
{"data":{"name":"big"},
 "mark":{"type":"text","align":"right","baseline":"middle","font":"DejaVu Sans Condensed","fontWeight":"bold","fontSize":20,"color":"#FFFFFF"},
 "encoding":{"x":{"field":"i","type":"quantitative","title":null,"scale":{"domain":[-0.625,466.625],"nice":false,"zero":false}},
  "y":{"field":"p","type":"quantitative","title":null,"scale":{"domain":[11253.9,12525.2],"nice":false,"zero":false}},"text":{"field":"t"}}},
{"data":{"name":"tags"},
 "mark":{"type":"rule","color":"#FFFFFF","strokeWidth":1},
 "encoding":{"x":{"datum":332.1,"type":"quantitative","title":null,"scale":{"domain":[-0.625,466.625],"nice":false,"zero":false}},"x2":{"datum":334.6},
  "y":{"field":"p","type":"quantitative","title":null,"scale":{"domain":[11253.9,12525.2],"nice":false,"zero":false}}}},
{"data":{"name":"tags"},
 "mark":{"type":"bar","size":18,"fill":"#000000","stroke":"#FFFFFF","strokeWidth":1},
 "encoding":{"x":{"datum":334.6,"type":"quantitative","title":null,"scale":{"domain":[-0.625,466.625],"nice":false,"zero":false}},"x2":{"datum":349.6},
  "y":{"field":"p","type":"quantitative","title":null,"scale":{"domain":[11253.9,12525.2],"nice":false,"zero":false}}}},
{"data":{"name":"tags"},
 "mark":{"type":"text","align":"center","baseline":"middle","font":"DejaVu Sans","fontSize":13.5,"color":"#FFFFFF"},
 "encoding":{"x":{"datum":342.2,"type":"quantitative","title":null,"scale":{"domain":[-0.625,466.625],"nice":false,"zero":false}},
  "y":{"field":"p","type":"quantitative","title":null,"scale":{"domain":[11253.9,12525.2],"nice":false,"zero":false}},"text":{"field":"t"}}},
{"data":{"name":"yticks"},
 "mark":{"type":"text","align":"left","baseline":"middle","font":"DejaVu Sans","fontSize":8,"color":"#FFFFFF"},
 "encoding":{"x":{"datum":468.1,"type":"quantitative","title":null,"scale":{"domain":[-0.625,466.625],"nice":false,"zero":false}},
  "y":{"field":"p","type":"quantitative","title":null,"scale":{"domain":[11253.9,12525.2],"nice":false,"zero":false}},
  "text":{"field":"p","type":"quantitative","format":".1f"}}},
{"data":{"name":"levels"},
 "mark":{"type":"bar","size":9,"fill":"#FFFFFF"},
 "encoding":{"x":{"datum":467,"type":"quantitative","title":null,"scale":{"domain":[-0.625,466.625],"nice":false,"zero":false}},"x2":{"datum":477.25},
  "y":{"field":"p","type":"quantitative","title":null,"scale":{"domain":[11253.9,12525.2],"nice":false,"zero":false}}}},
{"data":{"name":"levels"},
 "mark":{"type":"text","align":"left","baseline":"middle","font":"DejaVu Sans","fontSize":8,"color":"#000000"},
 "encoding":{"x":{"datum":468.1,"type":"quantitative","title":null,"scale":{"domain":[-0.625,466.625],"nice":false,"zero":false}},
  "y":{"field":"p","type":"quantitative","title":null,"scale":{"domain":[11253.9,12525.2],"nice":false,"zero":false}},
  "text":{"field":"p","type":"quantitative","format":".1f"}}},
{"data":{"name":"title"},
 "mark":{"type":"text","align":"left","baseline":"middle","font":"DejaVu Sans","fontSize":8,"color":"#FFFFFF"},
 "encoding":{"x":{"field":"i","type":"quantitative","title":null,"scale":{"domain":[-0.625,466.625],"nice":false,"zero":false}},
  "y":{"field":"p","type":"quantitative","title":null,"scale":{"domain":[11253.9,12525.2],"nice":false,"zero":false}},"text":{"field":"t"}}},
{"data":{"name":"title"},
 "mark":{"type":"point","shape":"triangle-down","filled":true,"size":22,"opacity":1,"color":"#FFFFFF"},
 "encoding":{"x":{"datum":1.5,"type":"quantitative","title":null,"scale":{"domain":[-0.625,466.625],"nice":false,"zero":false}},
  "y":{"field":"p","type":"quantitative","title":null,"scale":{"domain":[11253.9,12525.2],"nice":false,"zero":false}}}},
{"data":{"name":"title"},
 "mark":{"type":"point","shape":"triangle-down","filled":true,"size":40,"opacity":1,"color":"#8A8A8A"},
 "encoding":{"x":{"datum":293.4,"type":"quantitative","title":null,"scale":{"domain":[-0.625,466.625],"nice":false,"zero":false}},
  "y":{"datum":12521.5,"type":"quantitative","title":null,"scale":{"domain":[11253.9,12525.2],"nice":false,"zero":false}}}}
]
}
